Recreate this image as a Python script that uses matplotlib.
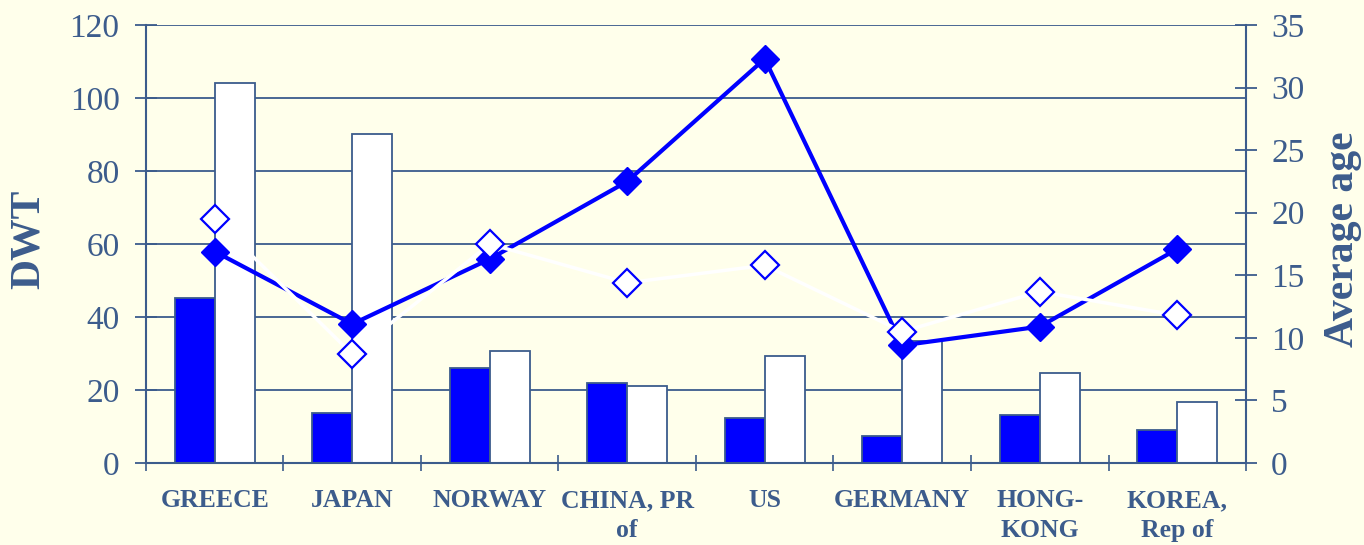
import matplotlib
matplotlib.use("Agg")
import matplotlib.pyplot as plt
import numpy as np

categories = ["GREECE", "JAPAN", "NORWAY", "CHINA, PR\nof", "US", "GERMANY", "HONG-\nKONG", "KOREA,\nRep of"]

# DWT (left axis)
dwt_blue = [45.2, 13.7, 26.0, 21.9, 12.3, 7.5, 13.2, 9.0]
dwt_white = [104.0, 90.1, 30.7, 21.1, 29.3, 33.5, 24.7, 16.7]

# Average age (right axis)
age_blue = [16.9, 11.1, 16.3, 22.5, 32.3, 9.4, 10.9, 17.1]
age_white = [19.5, 8.7, 17.5, 14.4, 15.8, 10.5, 13.7, 11.8]

left_ticks = [0, 20, 40, 60, 80, 100, 120]
right_ticks = [0, 5, 10, 15, 20, 25, 30, 35]

BG = "#FFFFEB"
SLATE = "#3C5C8C"
BLUE = "#0000FF"
FONT = "Liberation Serif"

plt.rcParams["font.family"] = FONT

fig = plt.figure(figsize=(13.64, 5.45), dpi=100, facecolor=BG)
ax = fig.add_axes([0.107, 0.1505, 0.8065, 0.8035])
ax.set_facecolor(BG)

x = np.arange(len(categories))
w = 0.29
ax.bar(x - w / 2, dwt_blue, width=w, color=BLUE, edgecolor=SLATE, linewidth=1.3, zorder=2)
ax.bar(x + w / 2, dwt_white, width=w, color="white", edgecolor=SLATE, linewidth=1.3, zorder=2)

ax.set_xlim(-0.5, len(categories) - 0.5)
ax.set_ylim(0, 120)
ax.set_yticks(left_ticks)
ax.yaxis.grid(True, color=SLATE, linewidth=1.3)
ax.set_axisbelow(True)

ax.set_xticks(np.arange(-0.5, len(categories), 1.0))
ax.set_xticklabels([])
ax.set_xticks(x, minor=True)
ax.set_xticklabels(categories, minor=True, fontsize=18.5, fontweight="bold", color=SLATE,
                   linespacing=1.35, va="top")
ax.tick_params(axis="x", which="major", direction="inout", length=11, width=1.2, color=SLATE)
ax.tick_params(axis="x", which="minor", length=0, pad=19)
ax.tick_params(axis="y", direction="inout", length=16, width=1.3, color=SLATE,
               labelsize=24, labelcolor=SLATE, pad=11)

for side in ["left", "bottom", "right", "top"]:
    ax.spines[side].set_color(SLATE)
    ax.spines[side].set_linewidth(1.5)
ax.spines["top"].set_visible(False)
ax.spines["right"].set_visible(False)

ax.set_ylabel("DWT", fontsize=30, fontweight="bold", color=SLATE)
ax.yaxis.set_label_coords(-0.089, 0.51)

ax2 = ax.twinx()
ax2.set_ylim(0, 35)
ax2.set_yticks(right_ticks)
ax2.tick_params(axis="y", direction="inout", length=16, width=1.3, color=SLATE,
                labelsize=24, labelcolor=SLATE, pad=10)
for side in ["left", "bottom", "top"]:
    ax2.spines[side].set_visible(False)
ax2.spines["right"].set_color(SLATE)
ax2.spines["right"].set_linewidth(1.5)
ax2.set_ylabel("Average age", fontsize=30, fontweight="bold", color=SLATE)
ax2.yaxis.set_label_coords(1.071, 0.51)

ax2.plot(x, age_blue, color=BLUE, linewidth=3, marker="D", markersize=14,
         markerfacecolor=BLUE, markeredgecolor=BLUE, zorder=3)
ax2.plot(x, age_white, color="white", linewidth=2.5, marker="D", markersize=14,
         markerfacecolor="white", markeredgecolor=BLUE, markeredgewidth=1.6, zorder=4)

fig.savefig("out.png", dpi=100, facecolor=BG)
